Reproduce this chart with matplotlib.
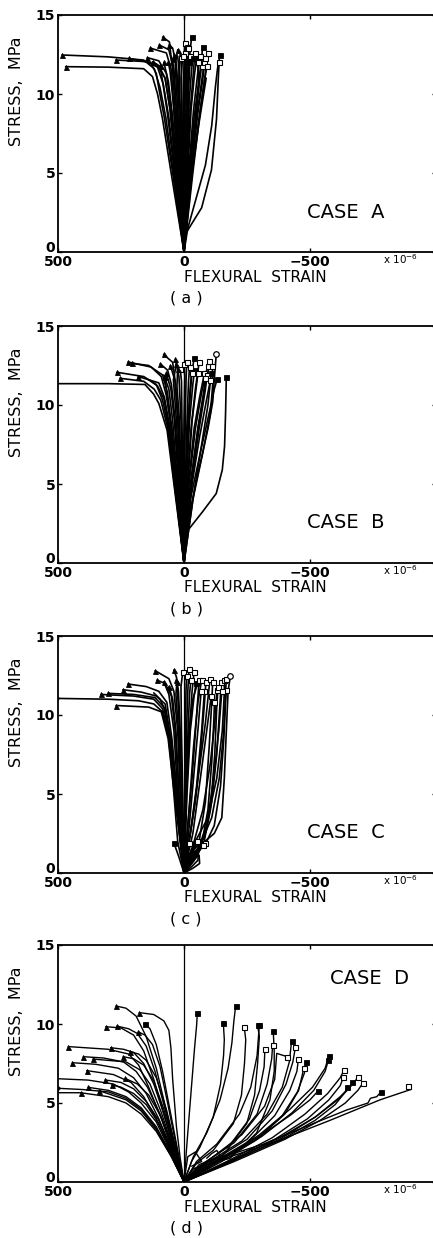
import matplotlib
matplotlib.use('Agg')
import matplotlib.pyplot as plt

# ---------------- data (strain x1e-6, stress MPa) ----------------
panel_labels = ['( a )', '( b )', '( c )', '( d )']
case_labels = ['CASE  A', 'CASE  B', 'CASE  C', 'CASE  D']
x_ticks = [500, 0, -500]
x_tick_labels = ['500', '0', '\u2212500']
y_ticks = [0, 5, 10, 15]
y_tick_labels = ['0', '5', '10', '15']

A_curves = [
    [(0, 0), (51, 5), (85, 8.4), (105, 10), (125, 11.1), (160, 11.6), (300, 11.7), (470, 11.73)],
    [(0, 0), (42, 5), (72, 8.5), (95, 10.4), (118, 11.6), (160, 12.15), (300, 12.35), (484, 12.47)],
    [(0, 0), (35, 5), (60, 8.5), (82, 10.6), (105, 11.7), (150, 12.05), (270, 12.15)],
    [(0, 0), (30, 5), (55, 9), (75, 11), (110, 11.9), (219, 12.26)],
    [(0, 0), (25, 5), (40, 9), (50, 11.5), (70, 12.6), (133, 12.9)],
    [(0, 0), (20, 5), (35, 9), (45, 11.5), (58, 13.3), (85, 13.6)],
    [(0, 0), (18, 5), (30, 9), (40, 11.5), (60, 12.8), (98, 13.1)],
    [(0, 0), (10, 5), (20, 9), (30, 11.8), (45, 12.9), (58, 13.1)],
    [(0, 0), (28, 5), (50, 9), (70, 11.3), (100, 12.1), (145, 12.3)],
    [(0, 0), (32, 5), (55, 9), (75, 11), (100, 11.8), (125, 12.05)],
    [(0, 0), (22, 5), (40, 9), (55, 11.4), (62, 12.0)],
    [(0, 0), (12, 5), (25, 9), (35, 11.8), (25, 12.8)],
    [(0, 0), (15, 5), (30, 9), (40, 11.3), (45, 12.2)],
    [(0, 0), (18, 5), (28, 8), (20, 11), (15, 12.6)],
    [(0, 0), (10, 5), (15, 9), (20, 11.5), (25, 12.4)],
    [(0, 0), (8, 5), (15, 9), (30, 11.5), (38, 12.5)],
    [(0, 0), (5, 5), (8, 9), (10, 11.6), (12, 12.3)],
    [(0, 0), (2, 5), (3, 9), (0, 12), (-3, 13.2)],
    [(0, 0), (-2, 5), (-3, 9), (-5, 12.6)],
    [(0, 0), (3, 5), (-3, 9), (-8, 11.8), (-10, 13.0)],
    [(0, 0), (-5, 5), (-12, 9), (-20, 12), (-30, 13.6)],
    [(0, 0), (-8, 5), (-15, 9), (-22, 11.5), (-25, 12.4)],
    [(0, 0), (-4, 5), (-8, 9), (-12, 11.2), (-18, 12.0)],
    [(0, 0), (-10, 5), (-20, 9), (-10, 11.5), (-15, 12.9)],
    [(0, 0), (-12, 5), (-25, 9), (-38, 11.5), (-43, 12.6)],
    [(0, 0), (-15, 5), (-28, 9), (-42, 11.3), (-50, 12.2)],
    [(0, 0), (-18, 5), (-38, 9), (-55, 11.4), (-62, 12.4)],
    [(0, 0), (-20, 5), (-40, 8.5), (-60, 11), (-70, 12.3), (-74, 13.0)],
    [(0, 0), (-22, 5), (-48, 9), (-65, 11.2), (-70, 11.8)],
    [(0, 0), (-25, 5), (-50, 8.5), (-70, 10.8), (-80, 12.0)],
    [(0, 0), (-30, 5), (-60, 8.5), (-80, 10.8), (-92, 12), (-97, 12.6)],
    [(0, 0), (-35, 5), (-65, 9), (-85, 11.2), (-90, 11.8)],
    [(0, 0), (-15, 1.5), (-50, 3.5), (-85, 5.5), (-110, 8), (-125, 10.5), (-133, 11.6), (-137, 12.0)],
    [(0, 0), (-8, 1.2), (-70, 2.8), (-109, 5.2), (-129, 8.4), (-137, 11.3), (-141, 12.5)],
    [(0, 0), (45, 5), (78, 8.5), (98, 10.2), (110, 11.3), (130, 11.9)],
    [(0, 0), (38, 5), (66, 8.8), (85, 10.8), (95, 11.8)],
    [(0, 0), (-28, 5), (-55, 8.8), (-75, 11), (-85, 12.3)],
    [(0, 0), (-32, 5), (-58, 8), (-78, 10), (-88, 11.0)],
    [(0, 0), (-6, 5), (-18, 9), (-30, 11.5), (-35, 12.3)],
    [(0, 0), (6, 5), (10, 9), (12, 11), (5, 12.4)],
    [(0, 0), (26, 5), (45, 8.5), (62, 10.8), (80, 12.0)],
    [(0, 0), (-26, 5), (-45, 8), (-58, 10.5), (-55, 12.0)],
]
A_ends = ['t', 't', 't', 't', 't', 't', 't', 't', 't', 't', 't', 't', 't', '', '', 't',
          's', 's', 's', 's', 'S', 's', 'S', 's', 's', 'S', 's', 'S', 's', 's', 's', 's', 's', 'S',
          '', 't', 's', '', 'S', 's', 't', 's']

B_curves = [
    [(0, 0), (40, 5), (67, 8.4), (100, 10.1), (121, 10.7), (155, 11.3), (300, 11.35), (530, 11.35)],
    [(0, 0), (35, 5), (60, 8.5), (85, 10.3), (110, 11.3), (160, 11.8), (266, 12.07)],
    [(0, 0), (38, 5), (64, 8.5), (92, 10.3), (118, 11.0), (160, 11.5), (253, 11.69)],
    [(0, 0), (30, 5), (50, 8.5), (70, 10.6), (90, 11.8), (130, 12.4), (222, 12.72)],
    [(0, 0), (28, 5), (48, 8.5), (66, 10.8), (85, 11.9), (140, 12.5), (208, 12.64)],
    [(0, 0), (33, 5), (55, 8.5), (78, 10.5), (100, 11.4), (181, 11.8)],
    [(0, 0), (25, 5), (45, 9), (60, 11), (80, 11.9)],
    [(0, 0), (22, 5), (38, 9), (52, 11), (70, 12.0)],
    [(0, 0), (20, 5), (35, 9), (50, 11.3), (65, 12.2), (94, 12.6)],
    [(0, 0), (15, 5), (25, 9), (35, 11.5), (45, 12.7), (81, 13.2)],
    [(0, 0), (18, 5), (30, 9), (42, 11.6), (30, 12.6)],
    [(0, 0), (12, 5), (22, 9), (35, 11.5), (54, 12.5)],
    [(0, 0), (8, 5), (12, 9), (20, 11.8), (34, 12.9)],
    [(0, 0), (5, 5), (8, 9), (10, 11.5), (15, 12.3)],
    [(0, 0), (2, 5), (0, 9), (-3, 11.8), (0, 12.6)],
    [(0, 0), (-2, 5), (-5, 9), (-8, 11.5), (-11, 12.7)],
    [(0, 0), (-5, 5), (-12, 9), (-18, 11.5), (-22, 12.4)],
    [(0, 0), (-8, 5), (-18, 9), (-30, 11.8), (-40, 13.0)],
    [(0, 0), (-10, 5), (-22, 9), (-35, 11.3), (-42, 12.2)],
    [(0, 0), (-15, 5), (-32, 9), (-50, 11.3), (-55, 12.0)],
    [(0, 0), (-12, 5), (-28, 8.5), (-45, 11), (-60, 12.7)],
    [(0, 0), (-18, 5), (-40, 8.5), (-62, 10.5), (-81, 12.0)],
    [(0, 0), (-20, 5), (-45, 8.5), (-70, 10.8), (-94, 12.5)],
    [(0, 0), (-25, 5), (-55, 8.5), (-80, 10.8), (-95, 12), (-101, 12.8)],
    [(0, 0), (-30, 5), (-60, 8.5), (-85, 11), (-90, 11.9)],
    [(0, 0), (-35, 4), (-75, 7), (-105, 9.5), (-115, 11.5), (-112, 12.5)],
    [(0, 0), (-25, 4), (-65, 7), (-100, 9.5), (-120, 11), (-132, 11.65)],
    [(0, 0), (-20, 3), (-60, 6), (-95, 8.5), (-114, 10.2), (-122, 12), (-128, 13.2)],
    [(0, 0), (-7, 1.9), (-74, 3.25), (-128, 4.4), (-152, 5.9), (-161, 7.4), (-165, 9.5), (-168, 11.8)],
    [(0, 0), (36, 5), (58, 8.5), (80, 10.4), (105, 11.2), (140, 11.6)],
    [(0, 0), (30, 5), (50, 8.5), (68, 10.6), (75, 11.8)],
    [(0, 0), (-28, 5), (-55, 8.5), (-75, 10.5), (-85, 11.7)],
    [(0, 0), (-32, 5), (-62, 8), (-88, 10.2), (-105, 11.6)],
    [(0, 0), (-40, 4.5), (-70, 7.5), (-95, 10.0), (-108, 12.0)],
    [(0, 0), (10, 5), (18, 9), (28, 11.2), (25, 12.3)],
    [(0, 0), (-8, 5), (-16, 9), (-25, 11.2), (-30, 12.0)],
]
B_ends = ['', 't', 't', 't', 't', 't', '', 't', 't', 't', 't', 't', 't',
          's', 's', 's', 's', 'S', 'S', 's', 's', 's', 's', 's', 's', 's', 'S', 'o', 'S',
          '', 't', 's', 's', 'S', 't', 's']

C_curves = [
    [(0, 0), (25, 2), (40, 5), (60, 8.5), (85, 10.2), (120, 10.7), (180, 10.9), (300, 11.0), (505, 11.05)],
    [(0, 0), (35, 5), (60, 8.5), (85, 10.4), (120, 11.0), (200, 11.2), (329, 11.3)],
    [(0, 0), (33, 5), (57, 8.5), (80, 10.5), (115, 11.1), (200, 11.3), (302, 11.37)],
    [(0, 0), (38, 5), (63, 8.5), (90, 10.2), (140, 10.5), (269, 10.6)],
    [(0, 0), (30, 5), (52, 8.5), (75, 10.7), (110, 11.2), (170, 11.45), (242, 11.6)],
    [(0, 0), (27, 5), (48, 8.5), (68, 10.8), (100, 11.5), (150, 11.8), (222, 11.96)],
    [(0, 0), (25, 5), (40, 9), (60, 11.3), (80, 12.1)],
    [(0, 0), (20, 5), (35, 9), (50, 11.2), (75, 12.0), (107, 12.2)],
    [(0, 0), (20, 5), (32, 9), (45, 11.0), (60, 11.8)],
    [(0, 0), (15, 5), (25, 9), (40, 11.5), (60, 12.3), (114, 12.8)],
    [(0, 0), (10, 5), (18, 9), (25, 11.3), (30, 12.2)],
    [(0, 0), (8, 5), (15, 9), (22, 11.5), (30, 12.4), (40, 12.85)],
    [(0, 0), (5, 5), (10, 9), (12, 11.8), (5, 12.7)],
    [(0, 0), (-3, 5), (-5, 9), (-8, 11.6), (-10, 12.5)],
    [(0, 0), (-5, 5), (-10, 9), (-15, 11.5), (-20, 12.9)],
    [(0, 0), (-8, 5), (-16, 9), (-22, 11.3), (-27, 12.2)],
    [(0, 0), (-10, 5), (-22, 9), (-32, 11.5), (-40, 12.7)],
    [(0, 0), (-12, 5), (-25, 9), (-40, 11.2), (-48, 12.0)],
    [(0, 0), (-15, 3), (-32, 6), (-48, 9.5), (-60, 12.2)],
    [(0, 0), (-20, 4), (-38, 8), (-55, 10.8), (-70, 12.2)],
    [(0, 0), (-25, 2.5), (-50, 5.5), (-70, 9), (-81, 11.5)],
    [(0, 0), (-20, 2), (-45, 4.5), (-65, 7.5), (-80, 10.5), (-87, 12.1)],
    [(0, 0), (-30, 3), (-60, 6.5), (-85, 9.5), (-100, 11.8), (-103, 12.3)],
    [(0, 0), (-30, 1.5), (-60, 2.0), (-85, 4.5), (-100, 8), (-110, 10.8), (-114, 12.1)],
    [(0, 0), (-50, 1.0), (-70, 1.8), (-95, 4), (-110, 7), (-118, 9.5), (-121, 10.8)],
    [(0, 0), (-40, 2.0), (-75, 4), (-105, 7), (-125, 10), (-130, 11.6)],
    [(0, 0), (-45, 1.2), (-80, 2.0), (-105, 4), (-122, 7.5), (-130, 10.5), (-135, 11.8)],
    [(0, 0), (-40, 1.5), (-80, 2.2), (-110, 4.5), (-130, 7.5), (-142, 10.5), (-148, 12.1)],
    [(0, 0), (-45, 2.0), (-95, 3.5), (-130, 6), (-152, 9), (-160, 11.4), (-160, 12.2)],
    [(0, 0), (-30, 1.2), (-90, 2.0), (-120, 3), (-145, 5.5), (-158, 8.5), (-165, 10.8), (-168, 11.6)],
    [(0, 0), (-20, 1.2), (-70, 2.0), (-110, 3.5), (-140, 6), (-158, 9), (-165, 11.5), (-168, 12.3)],
    [(0, 0), (-30, 1), (-60, 1.7), (-120, 2.5), (-150, 3.5), (-160, 6), (-168, 9), (-175, 11.5), (-184, 12.5)],
    [(0, 0), (-10, 1.0), (-20, 1.9)],
    [(0, 0), (-30, 1.2), (-50, 2.0)],
    [(0, 0), (-50, 1.2), (-85, 1.9)],
    [(0, 0), (-40, 0.8), (-75, 1.8)],
    [(0, 0), (20, 1.0), (40, 1.9)],
    [(0, 0), (-30, 0.4), (-55, 0.8), (-58, 1.2), (-45, 1.3), (-35, 0.9)],
    [(0, 0), (-35, 0.3), (-62, 0.6), (-60, 1.1), (-48, 1.0)],
    [(0, 0), (36, 5), (55, 8.5), (75, 10.3), (95, 11.0), (120, 11.4)],
    [(0, 0), (-18, 2.5), (-35, 5.5), (-55, 9), (-68, 11.5)],
    [(0, 0), (-35, 2.5), (-65, 6), (-90, 9), (-108, 11.2)],
    [(0, 0), (-55, 1.5), (-90, 3), (-118, 6), (-138, 9), (-150, 11.5)],
    [(0, 0), (-3, 5), (-20, 9), (-35, 11), (-50, 11.8)],
    [(0, 0), (12, 5), (22, 9), (32, 11.3), (28, 12.1)],
]
C_ends = ['d', 't', 't', 't', 't', 't', 't', 't', 't', 't', 't', 't',
          's', 's', 's', 's', 's', 'S', 's', 's', 's', 's', 's', 's', 's', 's', 's', 's', 's', 's', 's', 'o',
          's', 's', 's', 's', 'S', '', '',
          '', 's', 's', 's', '', 't']

D_curves = [
    # tension side
    [(0, 0), (30, 1.8), (70, 4.5), (110, 7.2), (150, 9.2), (190, 10.5), (230, 11.0), (270, 11.14)],
    [(0, 0), (15, 1.5), (30, 3.5), (45, 6.5), (52, 8.5), (60, 9.6), (80, 10.2), (120, 10.6), (177, 10.72)],
    [(0, 0), (25, 2), (55, 4.5), (85, 7), (110, 8.7), (135, 9.7), (155, 10.0)],
    [(0, 0), (35, 1.8), (80, 4.3), (120, 6.5), (160, 8.3), (200, 9.3), (250, 9.75), (310, 9.83)],
    [(0, 0), (35, 2), (75, 4.6), (115, 7), (150, 8.6), (185, 9.4), (220, 9.7), (267, 9.87)],
    [(0, 0), (30, 2.2), (65, 5), (95, 7.3), (125, 8.7), (155, 9.3), (181, 9.5)],
    [(0, 0), (40, 1.8), (90, 4), (140, 6), (180, 7.4), (220, 8.1), (300, 8.4), (459, 8.57)],
    [(0, 0), (35, 2), (80, 4.3), (120, 6.2), (160, 7.5), (200, 8.2), (240, 8.4), (291, 8.5)],
    [(0, 0), (30, 2), (70, 4.6), (110, 6.6), (150, 7.7), (180, 8.1), (214, 8.25)],
    [(0, 0), (45, 1.9), (100, 4), (150, 5.6), (200, 6.6), (260, 7.2), (350, 7.45), (443, 7.55)],
    [(0, 0), (45, 2), (95, 4.3), (145, 6), (190, 7.0), (240, 7.6), (320, 7.85), (399, 7.93)],
    [(0, 0), (40, 2), (90, 4.4), (135, 6.2), (175, 7.1), (230, 7.6), (360, 7.78)],
    [(0, 0), (35, 2.1), (80, 4.6), (120, 6.4), (160, 7.4), (200, 7.8), (241, 7.93)],
    [(0, 0), (50, 1.9), (110, 4), (160, 5.4), (210, 6.3), (280, 6.8), (386, 7.05)],
    [(0, 0), (50, 1.8), (110, 3.8), (170, 5.0), (220, 5.7), (280, 6.2), (380, 6.45), (520, 6.55)],
    [(0, 0), (45, 1.9), (100, 3.9), (150, 5.1), (200, 5.9), (250, 6.3), (313, 6.46)],
    [(0, 0), (40, 2), (90, 4.1), (140, 5.5), (185, 6.2), (234, 6.56)],
    [(0, 0), (45, 1.8), (100, 3.7), (150, 4.9), (200, 5.6), (250, 6.0), (287, 6.14)],
    [(0, 0), (50, 1.6), (110, 3.2), (170, 4.3), (230, 5.0), (300, 5.4), (410, 5.65), (520, 5.65)],
    [(0, 0), (50, 1.7), (110, 3.4), (170, 4.6), (230, 5.3), (300, 5.7), (400, 5.85), (499, 5.93)],
    [(0, 0), (50, 1.7), (110, 3.5), (170, 4.7), (230, 5.4), (300, 5.8), (380, 5.99)],
    [(0, 0), (50, 1.6), (110, 3.3), (170, 4.5), (230, 5.2), (336, 5.78)],
    [(410, 5.65), (410, 5.65)],
    # compression side
    [(0, 0), (-5, 1.0), (-12, 2.5), (-22, 4.5), (-32, 6.5), (-42, 8.5), (-50, 9.9), (-53, 10.72)],
    [(0, 0), (-37, 1.6), (-90, 3.1), (-143, 5.2), (-175, 7.2), (-190, 8.8), (-198, 10.2), (-205, 11.14)],
    [(0, 0), (-30, 1.3), (-63, 2.2), (-116, 4.1), (-145, 6.2), (-157, 8.0), (-160, 9.0), (-156, 10.08)],
    [(0, 0), (-50, 1.2), (-116, 2.0), (-196, 3.7), (-228, 5.5), (-240, 7.5), (-245, 9.0), (-239, 9.83)],
    [(0, 0), (-60, 1.1), (-156, 1.7), (-249, 3.7), (-280, 5.5), (-292, 7.5), (-299, 9.2), (-292, 9.94)],
    [(0, 0), (-50, 1.3), (-130, 2.4), (-220, 4.3), (-265, 6.0), (-290, 8.0), (-299, 9.94)],
    [(0, 0), (-60, 1.0), (-183, 1.5), (-288, 3.1), (-341, 5.2), (-358, 7.0), (-358, 8.35), (-354, 9.56)],
    [(0, 0), (-70, 1.1), (-180, 2.3), (-260, 4.0), (-300, 5.8), (-318, 7.3), (-321, 8.4)],
    [(0, 0), (-80, 1.2), (-200, 2.5), (-290, 4.3), (-330, 6.2), (-348, 7.8), (-352, 8.7)],
    [(0, 0), (-90, 1.2), (-230, 2.6), (-330, 4.3), (-390, 6.0), (-418, 7.6), (-427, 8.94)],
    [(0, 0), (-100, 1.2), (-250, 2.7), (-350, 4.5), (-405, 6.2), (-432, 7.6), (-442, 8.52)],
    [(0, 0), (-110, 1.2), (-260, 2.6), (-360, 4.2), (-420, 5.8), (-448, 7.0), (-454, 7.78)],
    [(0, 0), (-100, 1.4), (-230, 3.0), (-320, 4.8), (-360, 6.5), (-368, 8.14), (-410, 7.93)],
    [(0, 0), (-120, 1.2), (-280, 2.6), (-390, 4.2), (-450, 5.7), (-478, 6.9), (-484, 7.57)],
    [(0, 0), (-130, 1.3), (-290, 2.7), (-400, 4.3), (-455, 5.8), (-476, 7.24)],
    [(0, 0), (-140, 1.3), (-300, 3.0), (-420, 4.6), (-510, 6.0), (-560, 7.2), (-575, 8.0)],
    [(0, 0), (-150, 1.3), (-310, 2.9), (-430, 4.4), (-515, 5.8), (-560, 7.0), (-573, 7.7)],
    [(0, 0), (-170, 1.3), (-350, 2.8), (-480, 4.3), (-570, 5.6), (-620, 6.6), (-635, 7.09)],
    [(0, 0), (-180, 1.3), (-360, 2.7), (-490, 4.0), (-575, 5.2), (-620, 6.1), (-632, 6.62)],
    [(0, 0), (-190, 1.3), (-380, 2.7), (-520, 4.1), (-620, 5.4), (-670, 6.2), (-692, 6.67)],
    [(0, 0), (-200, 1.3), (-400, 2.7), (-540, 3.9), (-640, 5.0), (-690, 5.8), (-709, 6.24)],
    [(0, 0), (-190, 1.4), (-380, 2.8), (-520, 4.1), (-610, 5.2), (-660, 6.0), (-667, 6.35)],
    [(0, 0), (-200, 1.4), (-390, 2.7), (-520, 3.9), (-600, 4.9), (-640, 5.7), (-646, 6.0)],
    [(0, 0), (-150, 1.5), (-300, 2.9), (-420, 4.2), (-500, 5.2), (-533, 5.78)],
    [(0, 0), (-116, 1.4), (-315, 2.4), (-513, 3.7), (-646, 4.56), (-730, 5.0), (-740, 5.3), (-765, 5.4), (-782, 5.72)],
    [(0, 0), (-37, 0.84), (-183, 1.6), (-381, 2.66), (-579, 3.9), (-778, 5.2), (-901, 5.86), (-888, 6.08)],
    [(0, 0), (-15, 1.6), (-45, 1.9), (-70, 1.3), (-30, 1.0)],
    [(-90, 1.5), (-110, 1.8), (-130, 2.0), (-150, 1.5), (-120, 1.3)],
]
D_ends = ['t', 't', 'S', 't', 't', 't', 't', 't', 't', 't', 't', 't', 't', 't', '', 't', 't', 't', '', 'd',
          't', 't', 't',
          'S', 'S', 'S', 's', 'S', 'S', 'S', 's', 's', 'S', 's', 's', 's', 'S', 's', 'S', 'S', 's', 's',
          's', 's', 'S', 'S', 'S', 'S', 's', '', '']

PANELS = [(A_curves, A_ends), (B_curves, B_ends), (C_curves, C_ends), (D_curves, D_ends)]

# ---------------- styling / layout ----------------
W, H = 433, 1238
fig = plt.figure(figsize=(W / 100, H / 100), dpi=100)
fig.patch.set_facecolor('white')

tops_px = [15, 326, 636, 945]
ax_h_px = 237
ax_left_px = 58
ax_w_px = 378
case_pos_px = [(346, 212), (346, 523), (346, 832), (370, 979)]
line_w = [1.2, 1.2, 1.2, 1.0]

MK = {
    't': dict(marker='^', ms=3.6, mfc='black', mec='black', mew=0.6),
    'S': dict(marker='s', ms=3.6, mfc='black', mec='black', mew=0.6),
    's': dict(marker='s', ms=3.6, mfc='white', mec='black', mew=0.8),
    'o': dict(marker='o', ms=4.0, mfc='white', mec='black', mew=0.9),
    'd': dict(marker='o', ms=2.4, mfc='black', mec='black', mew=0.5),
}

for i, (curves, ends) in enumerate(PANELS):
    top = tops_px[i]
    bottom = top + ax_h_px
    ax = fig.add_axes([ax_left_px / W, 1 - bottom / H, ax_w_px / W, ax_h_px / H])
    ax.set_xlim(500, -1000)
    ax.set_ylim(0, 15)
    ax.axvline(0, color='black', lw=0.9, zorder=1)
    for pts, m in zip(curves, ends):
        xs = [p[0] for p in pts]
        ys = [p[1] for p in pts]
        ax.plot(xs, ys, color='black', lw=line_w[i], solid_joinstyle='round',
                solid_capstyle='round', zorder=2)
        if m:
            ax.plot([xs[-1]], [ys[-1]], linestyle='none', zorder=3, **MK[m])
    ax.set_xticks(x_ticks)
    ax.set_xticklabels(x_tick_labels)
    ax.set_yticks(y_ticks)
    ax.set_yticklabels(y_tick_labels)
    ax.tick_params(direction='in', length=3, width=1, top=True, right=True,
                   labelsize=10, pad=2)
    for lab in ax.get_xticklabels() + ax.get_yticklabels():
        lab.set_fontweight('bold')
    ax.get_yticklabels()[0].set_verticalalignment('baseline')
    for s in ax.spines.values():
        s.set_linewidth(1.3)
    ax.spines['right'].set_visible(False)

    # texts
    fig.text(400 / W, 1 - (bottom + 7) / H, r'x 10$^{-6}$', fontsize=7.5,
             ha='center', va='center')
    fig.text(255 / W, 1 - (bottom + 25) / H, 'FLEXURAL  STRAIN', fontsize=11,
             ha='center', va='center')
    fig.text(186 / W, 1 - (bottom + 46) / H, panel_labels[i], fontsize=11.5,
             ha='center', va='center')
    fig.text(17 / W, 1 - (top + ax_h_px / 2 - 42) / H, 'STRESS,  MPa', fontsize=11.5,
             rotation=90, ha='center', va='center')
    cx, cy = case_pos_px[i]
    fig.text(cx / W, 1 - cy / H, case_labels[i], fontsize=14, ha='center', va='center')

fig.savefig('out.png', dpi=100)
